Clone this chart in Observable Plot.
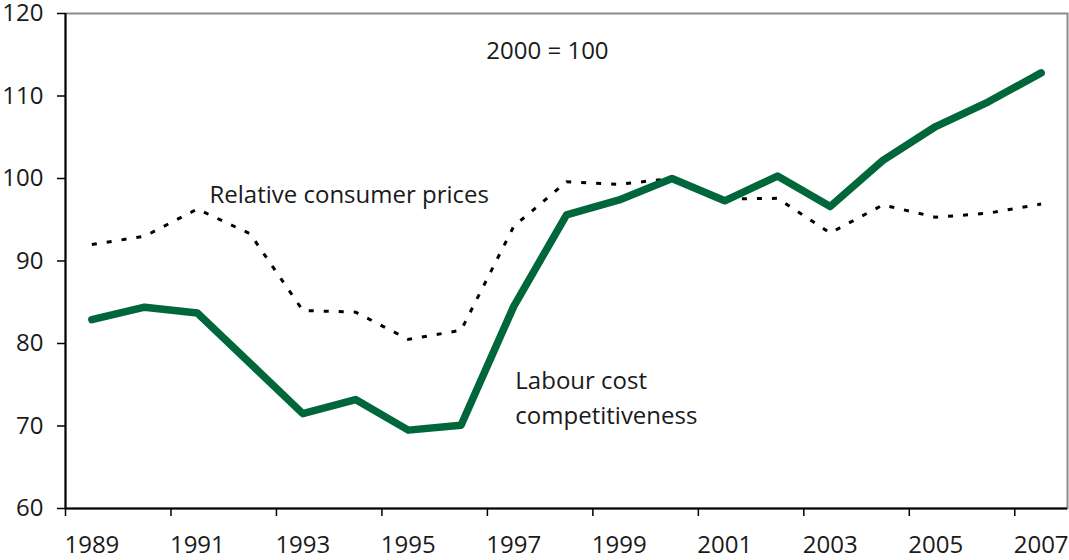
<!DOCTYPE html>
<html>
<head>
<meta charset="utf-8">
<script src="https://cdn.jsdelivr.net/npm/d3@7"></script>
<script src="https://cdn.jsdelivr.net/npm/@observablehq/plot@0.6"></script>
<style>
  html, body { margin: 0; padding: 0; background: #fff; }
  #chart svg { display: block; overflow: visible; }
</style>
</head>
<body>
<div id="chart"></div>
<script>
const years = [1989, 1990, 1991, 1992, 1993, 1994, 1995, 1996, 1997, 1998, 1999, 2000, 2001, 2002, 2003, 2004, 2005, 2006, 2007];
const labourCost = [82.9, 84.4, 83.7, 77.6, 71.5, 73.2, 69.5, 70.1, 84.5, 95.6, 97.4, 100.0, 97.3, 100.3, 96.6, 102.2, 106.3, 109.3, 112.8];
const consumerPrices = [92.0, 93.0, 96.3, 93.3, 84.0, 83.8, 80.5, 81.6, 94.2, 99.6, 99.3, 100.0, 97.5, 97.6, 93.4, 96.8, 95.3, 95.8, 96.9];
const xLabelYears = [1989, 1991, 1993, 1995, 1997, 1999, 2001, 2003, 2005, 2007];
const yTicks = [60, 70, 80, 90, 100, 110, 120];
const singleLineNotes = [
  {text: "2000 = 100", x: 1996.48, y: 115.36},
  {text: "Relative consumer prices", x: 1991.23, y: 98.0}
];
const multiLineNotes = [
  {text: "Labour cost\ncompetitiveness", x: 1997.03, y: 77.5}
];

const labourData = years.map((year, i) => ({year, value: labourCost[i]}));
const priceData = years.map((year, i) => ({year, value: consumerPrices[i]}));
// tick marks sit on the category boundaries (left edge of each labelled year)
const xTickBoundaries = xLabelYears.map(y => y - 0.5);

const font = "'Open Sans', 'Noto Sans', sans-serif";
const textColor = "#1a1a1a";

const chart = Plot.plot({
  width: 1069,
  height: 560,
  marginLeft: 65,
  marginRight: 2,
  marginTop: 13,
  marginBottom: 52,
  style: {fontFamily: font, fontSize: "24px", color: textColor, background: "#fff", overflow: "visible"},
  x: {domain: [years[0] - 0.5, years[years.length - 1] + 0.5]},
  y: {domain: [60, 120]},
  marks: [
    Plot.frame({stroke: "#8a8a8a", strokeWidth: 2}),
    Plot.axisY({ticks: yTicks, tickSize: 8, tickPadding: 14, stroke: "#000", strokeWidth: 1.5, fontSize: 24, fill: textColor, label: null}),
    Plot.axisX({ticks: xTickBoundaries, tickSize: 8, stroke: "#000", strokeWidth: 1.5, text: null, label: null}),
    Plot.axisX({ticks: xLabelYears, tickSize: 0, tickPadding: 27, tickFormat: d => String(d), fontSize: 24, fill: textColor, label: null}),
    Plot.ruleY([60], {stroke: "#000", strokeWidth: 2}),
    Plot.ruleX([years[0] - 0.5], {stroke: "#000", strokeWidth: 2}),
    Plot.line(priceData, {x: "year", y: "value", stroke: "#000", strokeWidth: 3, strokeDasharray: "5,10", strokeLinecap: "butt", strokeLinejoin: "miter"}),
    Plot.line(labourData, {x: "year", y: "value", stroke: "#00673a", strokeWidth: 7.5, strokeLinejoin: "round", strokeLinecap: "round"}),
    Plot.text(singleLineNotes, {x: "x", y: "y", text: "text", textAnchor: "start", lineAnchor: "middle", fontSize: 24, fill: textColor}),
    Plot.text(multiLineNotes, {x: "x", y: "y", text: "text", textAnchor: "start", lineAnchor: "top", fontSize: 24, lineHeight: 1.45, fill: textColor})
  ]
});
document.getElementById("chart").appendChild(chart);
</script>
</body>
</html>
